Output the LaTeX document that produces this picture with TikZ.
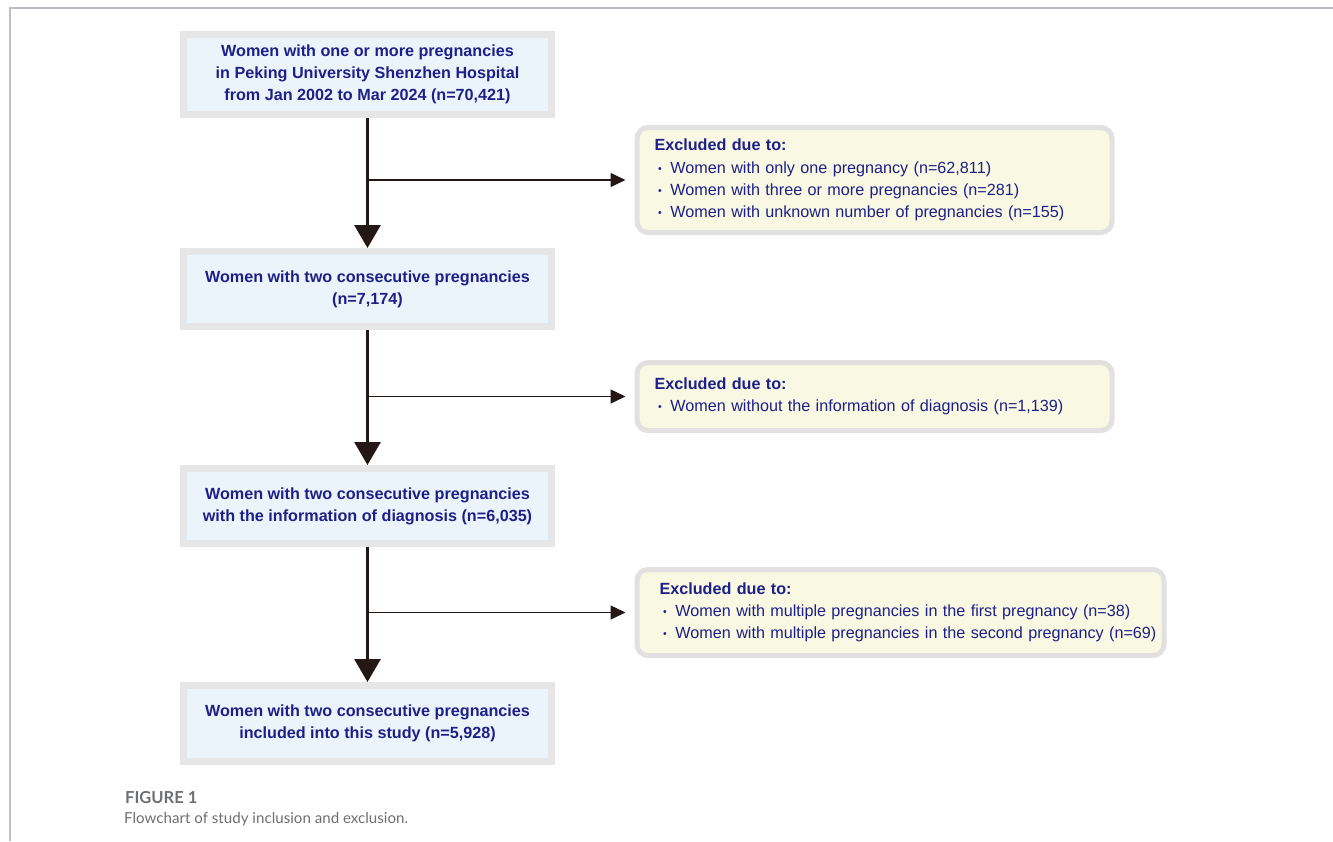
\documentclass[tikz,border=0pt]{standalone}
\usepackage{fontspec}
\setmainfont{Liberation Sans}
\newfontfamily\capfont{Lato}
\usepackage{xcolor}
\usetikzlibrary{arrows.meta,positioning,calc}
\definecolor{navy}{HTML}{1D2088}
\definecolor{inkarr}{HTML}{231815}
\definecolor{mainfill}{HTML}{EBF4FB}
\definecolor{mainedge}{HTML}{E6E6E6}
\definecolor{exfill}{HTML}{F8F8E3}
\definecolor{exedge}{HTML}{E1E1E1}
\definecolor{framecol}{HTML}{BDBDCB}
\definecolor{capgray}{HTML}{6E6F73}
\newlength{\exindent}
\newcommand{\bul}{\hspace*{\exindent}\hspace*{2pt}\raisebox{0.6pt}{\fontsize{6}{6}\selectfont\textbullet}\hspace{5pt}}
\newcommand{\exhead}{\hspace*{\exindent}\textbf{Excluded due to:}}

\begin{document}
\begin{tikzpicture}[
  mainbox/.style={
    draw=mainedge, fill=mainfill, line width=0.14cm,
    minimum width=7.36cm, minimum height=1.5cm, inner sep=2pt,
    align=center, text=navy,
    font=\fontsize{9.2}{12.6}\selectfont\bfseries,
  },
  exbox/.style={
    draw=exedge, fill=exfill, line width=0.1cm, rounded corners=0.22cm,
    anchor=west, inner xsep=0.13cm, inner ysep=0.2cm,
    align=left, text=navy,
    font=\fontsize{9.2}{12.6}\selectfont,
  },
  indent/.code={\setlength{\exindent}{#1}},
  downarr/.style={-{Triangle[width=0.52cm,length=0.46cm]}, inkarr, line width=0.06cm},
  sidearr/.style={-{Triangle[width=0.28cm,length=0.3cm]}, inkarr, line width=0.03cm,
    shorten >=0.18cm},
]
\useasboundingbox (0,0) rectangle (26.66,-16.82);
\draw[framecol, line width=0.03cm] (26.66,-0.16) -| (0.2,-16.82);
% main column
\node[mainbox, minimum height=1.6cm] (b1) at (7.35,-1.49)
  {Women with one or more pregnancies\\in Peking University Shenzhen Hospital\\from Jan 2002 to Mar 2024 (n=70,421)};
\node[mainbox] (b2) at (7.35,-5.78)
  {Women with two consecutive pregnancies\\(n=7,174)};
\node[mainbox] (b3) at (7.35,-10.12)
  {Women with two consecutive pregnancies\\with the information of diagnosis (n=6,035)};
\node[mainbox, minimum height=1.52cm] (b4) at (7.35,-14.47)
  {Women with two consecutive pregnancies\\included into this study (n=5,928)};
% exclusions
\node[exbox, indent=0.22cm, text width=9.24cm, minimum height=2.1cm] (x1) at (12.69,-3.60)
  {\exhead\\
   \bul Women with only one pregnancy (n=62,811)\\
   \bul Women with three or more pregnancies (n=281)\\
   \bul Women with unknown number of pregnancies (n=155)};
\node[exbox, indent=0.22cm, text width=9.24cm, minimum height=1.36cm] (x2) at (12.69,-7.93)
  {\exhead\\
   \bul Women without the information of diagnosis (n=1,139)};
\node[exbox, indent=0.32cm, text width=10.28cm, minimum height=1.72cm] (x3) at (12.69,-12.25)
  {\exhead\\
   \bul Women with multiple pregnancies in the first pregnancy (n=38)\\
   \bul Women with multiple pregnancies in the second pregnancy (n=69)};
% connectors
\draw[downarr] (b1) -- (b2);
\draw[downarr] (b2) -- (b3);
\draw[downarr] (b3) -- (b4);
\draw[sidearr] (b1.south |- x1.west) -- (x1.west);
\draw[sidearr] (b2.south |- x2.west) -- (x2.west);
\draw[sidearr] (b3.south |- x3.west) -- (x3.west);
% caption
\node[anchor=base west, text=capgray, font=\capfont\bfseries\fontsize{9.4}{11}\selectfont] (figno)
  at (2.38,-16.06) {FIGURE 1};
\node[anchor=base west, text=capgray, font=\capfont\fontsize{8.6}{11}\selectfont] (figcap)
  at (2.36,-16.46) {Flowchart of study inclusion and exclusion.};
\end{tikzpicture}
\end{document}
